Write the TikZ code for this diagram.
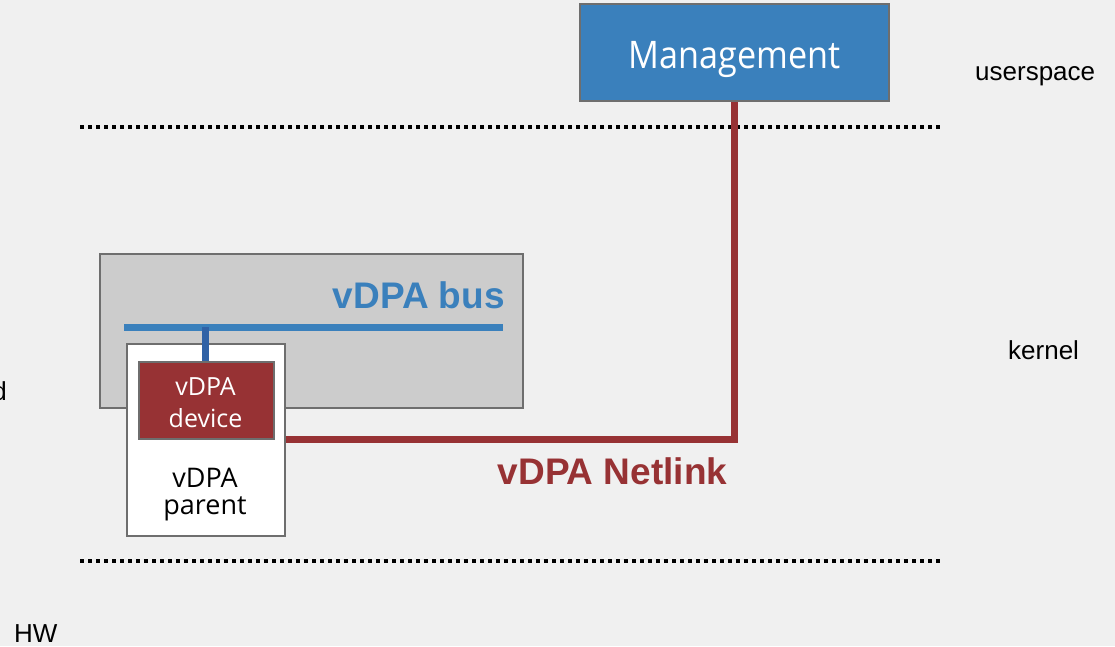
\documentclass[tikz,border=0pt]{standalone}
\usepackage{fontspec}
\setmainfont{Liberation Sans}
\newfontfamily\boxfont{Open Sans}
\newfontfamily\titlefont[FakeStretch=0.9]{Open Sans}
\definecolor{bgcol}{HTML}{F0F0F0}
\definecolor{mgmtblue}{HTML}{3A80BC}
\definecolor{stubblue}{HTML}{3062A6}
\definecolor{netred}{HTML}{973234}
\definecolor{busgray}{HTML}{CCCCCC}
\definecolor{edgegray}{HTML}{6E6E6E}
\tikzset{
  frame/.style={draw=edgegray, line width=1.6pt, rectangle, inner sep=0pt, anchor=north west},
  layerline/.style={line width=3.6pt, dash pattern=on 3.6pt off 4.4pt},
  layerlabel/.style={font=\fontsize{26}{30}\selectfont, text=black, inner sep=0pt},
  biglabel/.style={font=\fontsize{37}{42}\selectfont\bfseries, inner sep=0pt},
}
\begin{document}
\begin{tikzpicture}[x=1pt, y=-1pt]
  \useasboundingbox (0,0) rectangle (1115,646);
  \clip (0,0) rectangle (1115,646);
  \fill[bgcol] (0,0) rectangle (1115,646);

  % layer separators
  \coordinate (top1) at (80,127);
  \coordinate (top2) at (942,127);
  \coordinate (bot1) at (80,561);
  \coordinate (bot2) at (942,561);
  \draw[layerline] (top1) -- (top2);
  \draw[layerline] (bot1) -- (bot2);

  % layer names
  \node[layerlabel, anchor=base west] (lus) at (975,80) {userspace};
  \node[layerlabel, anchor=base west] (lkr) at (1008,359) {kernel};
  \node[layerlabel, anchor=base west] (lhw) at (14,642) {HW};
  \node[layerlabel, anchor=base east] (lcut) at (7,400) {d};

  % vDPA bus area
  \node[frame, fill=busgray, minimum width=423pt, minimum height=154pt] (bus) at (99,253) {};
  \node[biglabel, anchor=base east, text=mgmtblue] (buslabel) at (505,308) {vDPA bus};
  \coordinate (busL) at (124,327);
  \coordinate (busR) at (503,327);
  \coordinate (busT) at (205.5,327);
  \draw[mgmtblue, line width=7pt] (busL) -- (busR);

  % parent and device
  \node[frame, fill=white, minimum width=158pt, minimum height=192pt] (parent) at (126,343) {};
  \draw[stubblue, line width=7.5pt] (busT) -- (205.5,361);
  \node[frame, fill=netred, minimum width=135pt, minimum height=77pt] (device) at (138,361) {};
  \node[text=white, align=center, inner sep=0pt, anchor=base,
        font=\boxfont\fontsize{25}{32}\selectfont] (devlabel) at (205.5,427) {vDPA\\device};
  \node[text=black, align=center, inner sep=0pt, anchor=base,
        font=\boxfont\fontsize{27}{27}\selectfont] (parlabel) at (205,514) {vDPA\\parent};

  % management
  \node[frame, fill=mgmtblue, minimum width=309pt, minimum height=97pt] (mgmt) at (579,3) {};
  \node[text=white, inner sep=0pt, anchor=base,
        font=\titlefont\fontsize{38}{44}\selectfont] (mgmtlabel) at (mgmt.center |- 0,68) {Management};

  % netlink connector
  \draw[netred, line width=7pt] (parent.east) -| (mgmt.south);
  \node[biglabel, anchor=base, text=netred] (netlabel) at (612.5,484) {vDPA Netlink};
\end{tikzpicture}
\end{document}
